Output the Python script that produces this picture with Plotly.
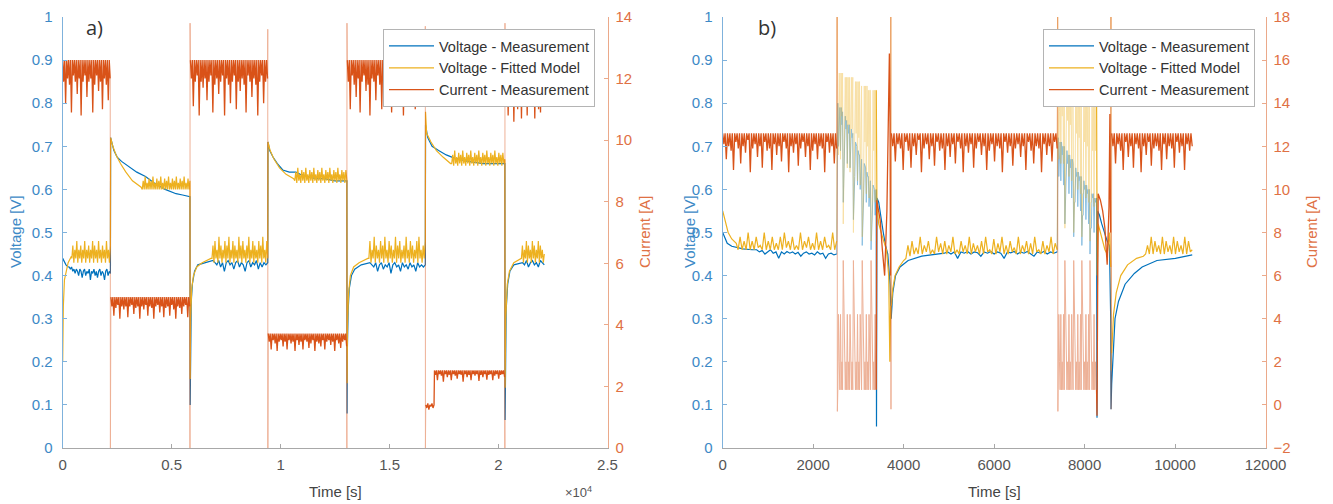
import numpy as np
import plotly.graph_objects as go

# ---------------------------------------------------------------- colours
C_MEAS = "#0072BD"
C_MOD = "#EDB120"
C_CUR = "#D95319"
FONT = "Liberation Sans, Arial, sans-serif"

# ================================================================ panel a)
A_X_TICKS = [0, 5000, 10000, 15000, 20000, 25000]
A_X_TICKTEXT = ["0", "0.5", "1", "1.5", "2", "2.5"]

# current [A], one list per load step
A_CUR_HI1 = [12.6, 11.9, 12.6, 11.2, 12.6, 12.0, 12.6, 11.8, 12.6, 10.9, 12.6, 12.1, 12.6, 11.9, 12.6, 11.5,
             12.6, 12.0, 12.6, 10.8, 12.6, 11.9, 12.6, 12.1, 12.6, 11.4, 12.6, 11.9, 12.6, 12.0, 12.6, 10.9,
             12.6, 11.8, 12.6, 12.1, 12.6, 11.6, 12.6, 11.9, 12.6, 11.0, 12.6, 12.0, 12.6, 11.8, 12.6, 11.3,
             12.6, 12.0]
A_CUR_LO1 = [4.9, 4.6, 4.9, 4.3, 4.9, 4.55, 4.9, 4.65, 4.9, 4.2, 4.9, 4.6, 4.9, 4.5, 4.9, 4.6, 4.9, 4.25, 4.9, 4.6,
             4.9, 4.65, 4.9, 4.35, 4.9, 4.55, 4.9, 4.6, 4.9, 4.2, 4.9, 4.6, 4.9, 4.5, 4.9, 4.65, 4.9, 4.3, 4.9, 4.6,
             4.9, 4.55, 4.9, 4.2, 4.9, 4.6, 4.9, 4.65, 4.9, 4.4, 4.9, 4.6, 4.9, 4.25, 4.9, 4.55, 4.9, 4.6, 4.9, 4.3,
             4.9, 4.65, 4.9, 4.5, 4.9, 4.2, 4.9, 4.6, 4.9, 4.55, 4.9, 4.35, 4.9, 4.6, 4.9, 4.65, 4.9, 4.25, 4.9, 4.6]
A_CUR_HI2 = [12.6, 12.0, 12.6, 11.1, 12.6, 11.9, 12.6, 12.1, 12.6, 10.8, 12.6, 11.9, 12.6, 11.7, 12.6, 12.0,
             12.6, 11.3, 12.6, 11.9, 12.6, 12.1, 12.6, 10.9, 12.6, 11.8, 12.6, 12.0, 12.6, 11.5, 12.6, 11.9,
             12.6, 12.1, 12.6, 10.8, 12.6, 12.0, 12.6, 11.8, 12.6, 11.2, 12.6, 11.9, 12.6, 12.1, 12.6, 11.0,
             12.6, 11.9, 12.6, 11.6, 12.6, 12.0, 12.6, 11.8, 12.6, 10.9, 12.6, 12.1, 12.6, 11.9, 12.6, 11.4,
             12.6, 12.0, 12.6, 11.8, 12.6, 10.8, 12.6, 11.9, 12.6, 12.1, 12.6, 11.2, 12.6, 11.9, 12.6, 12.0]
A_CUR_LO2 = [3.72, 3.45, 3.72, 3.2, 3.72, 3.5, 3.72, 3.4, 3.72, 3.15, 3.72, 3.45, 3.72, 3.5, 3.72, 3.3, 3.72,
             3.45, 3.72, 3.2, 3.72, 3.5, 3.72, 3.4, 3.72, 3.45, 3.72, 3.15, 3.72, 3.5, 3.72, 3.35, 3.72, 3.45,
             3.72, 3.2, 3.72, 3.5, 3.72, 3.45, 3.72, 3.25, 3.72, 3.4, 3.72, 3.5, 3.72, 3.15, 3.72, 3.45, 3.72,
             3.4, 3.72, 3.3, 3.72, 3.5, 3.72, 3.2, 3.72, 3.45, 3.72, 3.5, 3.72, 3.35, 3.72, 3.45, 3.72, 3.15,
             3.72, 3.5, 3.72, 3.4, 3.72, 3.25, 3.72, 3.45, 3.72, 3.5, 3.72, 3.3]
A_CUR_HI3 = [12.6, 11.9, 12.6, 11.0, 12.6, 12.1, 12.6, 11.8, 12.6, 11.4, 12.6, 12.0, 12.6, 10.9, 12.6, 11.9,
             12.6, 12.1, 12.6, 11.6, 12.6, 11.8, 12.6, 10.8, 12.6, 12.0, 12.6, 11.9, 12.6, 11.3, 12.6, 12.1,
             12.6, 11.8, 12.6, 11.0, 12.6, 11.9, 12.6, 12.0, 12.6, 11.5, 12.6, 11.9, 12.6, 10.9, 12.6, 12.1,
             12.6, 11.8, 12.6, 11.2, 12.6, 12.0, 12.6, 11.9, 12.6, 10.8, 12.6, 11.8, 12.6, 12.1, 12.6, 11.4,
             12.6, 11.9, 12.6, 12.0, 12.6, 11.0, 12.6, 11.8, 12.6, 12.1, 12.6, 11.6, 12.6, 11.9, 12.6, 12.0]
A_CUR_DIP = [1.4, 1.3, 1.45, 1.25, 1.4, 1.35, 1.45, 1.3, 1.4]
A_CUR_LO3 = [2.52, 2.38, 2.52, 2.2, 2.52, 2.4, 2.52, 2.35, 2.52, 2.15, 2.52, 2.4, 2.52, 2.3, 2.52, 2.38, 2.52,
             2.2, 2.52, 2.4, 2.52, 2.35, 2.52, 2.25, 2.52, 2.4, 2.52, 2.38, 2.52, 2.15, 2.52, 2.4, 2.52, 2.3,
             2.52, 2.38, 2.52, 2.2, 2.52, 2.4, 2.52, 2.35, 2.52, 2.4, 2.52, 2.18, 2.52, 2.38, 2.52, 2.3, 2.52,
             2.4, 2.52, 2.22, 2.52, 2.38, 2.52, 2.4, 2.52, 2.2, 2.52, 2.35, 2.52, 2.4, 2.52, 2.25, 2.52, 2.38,
             2.52, 2.4, 2.52, 2.3]
A_CUR_HI4 = [12.6, 11.8, 12.6, 10.8, 12.6, 11.9, 12.6, 11.2, 12.6, 10.6, 12.6, 12.0, 12.6, 11.0, 12.6, 11.8,
             12.6, 10.7, 12.6, 11.9, 12.6, 11.3, 12.6, 10.8, 12.6, 12.0, 12.6, 11.1, 12.6, 11.8, 12.6, 10.7,
             12.6, 11.9, 12.6, 11.0, 12.6, 10.9, 12.6, 11.8, 12.6, 12.0]
# short excursions of the current while switching between load steps
A_CUR_SW_T = [[2190], [5840, 5845], [9410, 9415], [13040, 13045], [16640, 16645], [20290, 20295]]
A_CUR_SW_V = [[0.0], [0.0, 13.8], [13.6, 0.0], [0.0, 13.8], [13.7, 0.0], [0.0, 13.8]]

# voltage - fitted model [V]
A_MOD_RISE1_T = [0, 30, 80, 150, 250, 400]
A_MOD_RISE1 = [0.20, 0.33, 0.39, 0.41, 0.43, 0.445]
A_MOD_N1 = [0.44, 0.47, 0.43, 0.46, 0.44, 0.48, 0.43, 0.46, 0.44, 0.47, 0.43, 0.46, 0.44, 0.48, 0.43, 0.46,
            0.44, 0.47, 0.43, 0.46, 0.44, 0.48, 0.43, 0.47, 0.44, 0.46, 0.43, 0.48, 0.44, 0.46, 0.43, 0.47,
            0.44, 0.46, 0.43, 0.48, 0.44, 0.46, 0.43, 0.47]
A_MOD_DEC2_T = [2200, 2300, 2450, 2650, 2900, 3200, 3600]
A_MOD_DEC2 = [0.72, 0.70, 0.68, 0.66, 0.64, 0.62, 0.605]
A_MOD_N2 = [0.60, 0.62, 0.60, 0.63, 0.60, 0.615, 0.60, 0.625, 0.60, 0.62, 0.60, 0.63, 0.60, 0.615, 0.60,
            0.625, 0.60, 0.62, 0.60, 0.63, 0.60, 0.615, 0.60, 0.625, 0.60, 0.62, 0.60, 0.63, 0.60, 0.615,
            0.60, 0.625, 0.60, 0.62, 0.60, 0.63, 0.60, 0.615, 0.60, 0.625, 0.60, 0.62, 0.60, 0.63, 0.60,
            0.615, 0.60, 0.625, 0.60, 0.62]
A_MOD_RISE3_T = [5850, 5870, 5920, 6000, 6150, 6400, 6800]
A_MOD_RISE3 = [0.16, 0.30, 0.37, 0.40, 0.42, 0.43, 0.44]
A_MOD_N3 = [0.44, 0.47, 0.43, 0.48, 0.44, 0.46, 0.43, 0.49, 0.44, 0.47, 0.43, 0.46, 0.44, 0.48, 0.43, 0.47,
            0.44, 0.49, 0.43, 0.46, 0.44, 0.48, 0.43, 0.47, 0.44, 0.46, 0.43, 0.49, 0.44, 0.47, 0.43, 0.48,
            0.44, 0.46, 0.43, 0.47, 0.44, 0.49, 0.43, 0.46, 0.44, 0.48, 0.43, 0.47, 0.44, 0.46, 0.43, 0.48,
            0.44, 0.47, 0.43, 0.49, 0.44, 0.46, 0.43, 0.48, 0.44]
A_MOD_DEC4_T = [9420, 9520, 9700, 9950, 10250, 10600]
A_MOD_DEC4 = [0.71, 0.69, 0.67, 0.65, 0.635, 0.625]
A_MOD_N4 = [0.62, 0.64, 0.615, 0.65, 0.62, 0.635, 0.615, 0.645, 0.62, 0.64, 0.615, 0.65, 0.62, 0.635, 0.615,
            0.645, 0.62, 0.64, 0.615, 0.65, 0.62, 0.635, 0.615, 0.645, 0.62, 0.64, 0.615, 0.65, 0.62, 0.635,
            0.615, 0.645, 0.62, 0.64, 0.615, 0.65, 0.62, 0.635, 0.615, 0.645, 0.62, 0.64, 0.615, 0.65, 0.62,
            0.635, 0.615, 0.645, 0.62, 0.64, 0.615, 0.645, 0.62]
A_MOD_RISE5_T = [13050, 13070, 13120, 13200, 13350, 13600, 14000]
A_MOD_RISE5 = [0.15, 0.29, 0.36, 0.40, 0.42, 0.43, 0.44]
A_MOD_N5 = [0.44, 0.48, 0.43, 0.46, 0.44, 0.49, 0.43, 0.47, 0.44, 0.46, 0.43, 0.48, 0.44, 0.47, 0.43, 0.49,
            0.44, 0.46, 0.43, 0.48, 0.44, 0.47, 0.43, 0.46, 0.44, 0.49, 0.43, 0.47, 0.44, 0.48, 0.43, 0.46,
            0.44, 0.47, 0.43, 0.49, 0.44, 0.46, 0.43, 0.48, 0.44, 0.47, 0.43, 0.46, 0.44, 0.48, 0.43, 0.49,
            0.44, 0.46, 0.43, 0.47, 0.44, 0.48]
A_MOD_DEC6_T = [16650, 16700, 16900, 17150, 17450, 17800]
A_MOD_DEC6 = [0.78, 0.73, 0.71, 0.69, 0.675, 0.66]
A_MOD_N6 = [0.66, 0.68, 0.655, 0.69, 0.66, 0.675, 0.655, 0.685, 0.66, 0.68, 0.655, 0.69, 0.66, 0.675, 0.655,
            0.685, 0.66, 0.68, 0.655, 0.69, 0.66, 0.675, 0.655, 0.685, 0.66, 0.68, 0.655, 0.69, 0.66, 0.675,
            0.655, 0.685, 0.66, 0.68, 0.655, 0.69, 0.66, 0.675, 0.655, 0.685, 0.66, 0.68, 0.655, 0.69, 0.66,
            0.675, 0.655, 0.685, 0.66, 0.68, 0.655, 0.685, 0.66, 0.67]
A_MOD_RISE7_T = [20300, 20330, 20400, 20500, 20700, 21000]
A_MOD_RISE7 = [0.14, 0.30, 0.38, 0.41, 0.43, 0.44]
A_MOD_N7 = [0.44, 0.47, 0.43, 0.46, 0.44, 0.48, 0.43, 0.47, 0.44, 0.46, 0.43, 0.48, 0.44, 0.47, 0.43, 0.46,
            0.44, 0.48, 0.43, 0.47, 0.44, 0.46, 0.43, 0.45]

# voltage - measurement [V]
A_MEAS_RISE1_T = [0, 50, 150, 250]
A_MEAS_RISE1 = [0.44, 0.435, 0.425, 0.42]
A_MEAS_N1 = [0.42, 0.415, 0.42, 0.41, 0.415, 0.405, 0.415, 0.41, 0.40, 0.415, 0.41, 0.395, 0.41, 0.415, 0.40,
             0.41, 0.405, 0.415, 0.39, 0.41, 0.405, 0.415, 0.40, 0.41, 0.395, 0.41, 0.415, 0.40, 0.41, 0.405,
             0.39, 0.41, 0.415, 0.40, 0.41, 0.405]
A_MEAS_2_T = [2200, 2350, 2500, 2700, 3000, 3400, 3800, 4200, 4700, 5200, 5500, 5840]
A_MEAS_2 = [0.72, 0.69, 0.675, 0.665, 0.655, 0.64, 0.63, 0.615, 0.60, 0.59, 0.587, 0.583]
A_MEAS_RISE3_T = [5850, 5860, 5900, 5950, 6050, 6200, 6500, 6800]
A_MEAS_RISE3 = [0.10, 0.25, 0.34, 0.38, 0.41, 0.425, 0.43, 0.435]
A_MEAS_N3 = [0.435, 0.43, 0.425, 0.435, 0.42, 0.43, 0.41, 0.43, 0.435, 0.425, 0.43, 0.415, 0.43, 0.435, 0.42,
             0.43, 0.425, 0.41, 0.43, 0.435, 0.42, 0.43, 0.425, 0.435, 0.415, 0.43, 0.42, 0.43, 0.425, 0.43]
A_MEAS_4_T = [9420, 9500, 9650, 9850, 10100, 10400, 10700, 10900, 11200, 11600, 12000, 12500, 13040]
A_MEAS_4 = [0.71, 0.69, 0.675, 0.66, 0.645, 0.64, 0.64, 0.635, 0.63, 0.625, 0.625, 0.62, 0.62]
A_MEAS_RISE5_T = [13050, 13060, 13100, 13150, 13250, 13400, 13700, 14000]
A_MEAS_RISE5 = [0.08, 0.22, 0.32, 0.37, 0.40, 0.415, 0.425, 0.43]
A_MEAS_N5 = [0.43, 0.425, 0.42, 0.43, 0.41, 0.425, 0.43, 0.415, 0.425, 0.42, 0.43, 0.405, 0.425, 0.43, 0.42,
             0.425, 0.41, 0.43, 0.42, 0.425, 0.415, 0.43, 0.42, 0.425, 0.41, 0.43, 0.42, 0.425, 0.42, 0.425]
A_MEAS_6_T = [16650, 16750, 16950, 17250, 17600, 18000, 18600, 19300, 20290]
A_MEAS_6 = [0.75, 0.72, 0.70, 0.69, 0.68, 0.672, 0.665, 0.66, 0.66]
A_MEAS_RISE7_T = [20300, 20310, 20350, 20420, 20520, 20700, 21000]
A_MEAS_RISE7 = [0.065, 0.20, 0.32, 0.38, 0.41, 0.425, 0.43]
A_MEAS_N7 = [0.43, 0.425, 0.435, 0.42, 0.43, 0.435, 0.425, 0.43, 0.42, 0.435, 0.43, 0.425]

# ================================================================ panel b)
B_X_TICKS = [0, 2000, 4000, 6000, 8000, 10000, 12000]
B_X_TICKTEXT = ["0", "2000", "4000", "6000", "8000", "10000", "12000"]

B_CUR_HI1 = [12.6, 12.1, 12.6, 11.4, 12.6, 12.0, 12.6, 11.8, 12.6, 10.9, 12.6, 12.2, 12.6, 11.9, 12.6, 11.2,
             12.6, 12.0, 12.6, 11.7, 12.6, 12.3, 12.6, 10.8, 12.6, 11.9, 12.6, 12.1, 12.6, 11.5, 12.6, 12.0,
             12.6, 11.0, 12.6, 12.2, 12.6, 11.8, 12.6, 11.9, 12.6, 10.9, 12.6, 12.1, 12.6, 11.6, 12.6, 12.0,
             12.6, 11.3, 12.6, 12.2, 12.6, 11.9, 12.6, 10.8, 12.6, 12.0, 12.6, 11.7, 12.6, 12.1, 12.6, 11.1,
             12.6, 11.9, 12.6, 12.2, 12.6, 11.5, 12.6, 12.0, 12.6, 10.9, 12.6, 11.8, 12.6, 12.1, 12.6, 11.4,
             12.6, 12.0, 12.6, 11.9, 12.6, 10.8, 12.6, 12.2, 12.6, 11.7, 12.6, 12.0, 12.6, 11.2, 12.6, 11.9]
B_CUR_HI2 = [12.6, 12.0, 12.6, 11.3, 12.6, 12.1, 12.6, 11.9, 12.6, 10.9, 12.6, 12.2, 12.6, 11.8, 12.6, 11.0,
             12.6, 12.0, 12.6, 11.6, 12.6, 12.3, 12.6, 10.8, 12.6, 11.9, 12.6, 12.1, 12.6, 11.4, 12.6, 12.0,
             12.6, 11.1, 12.6, 12.2, 12.6, 11.8, 12.6, 11.9, 12.6, 10.9, 12.6, 12.0, 12.6, 11.5, 12.6, 12.1,
             12.6, 11.2, 12.6, 12.2, 12.6, 11.9, 12.6, 10.8, 12.6, 12.0, 12.6, 11.7, 12.6, 12.1, 12.6, 11.0,
             12.6, 11.9, 12.6, 12.2, 12.6, 11.6, 12.6, 12.0, 12.6, 10.9, 12.6, 11.8, 12.6, 12.1, 12.6, 11.3,
             12.6, 12.0, 12.6, 11.9, 12.6, 10.8, 12.6, 12.2, 12.6, 11.7, 12.6, 12.0, 12.6, 11.1, 12.6, 11.9,
             12.6, 12.1, 12.6, 11.5, 12.6, 12.0, 12.6, 10.9, 12.6, 12.2, 12.6, 11.8, 12.6, 11.2, 12.6, 12.0,
             12.6, 11.9, 12.6, 10.8, 12.6, 12.1, 12.6, 11.6, 12.6, 12.0, 12.6, 11.3, 12.6, 12.2, 12.6, 11.9]
B_CUR_HI3 = [12.6, 12.0, 12.6, 11.2, 12.6, 12.1, 12.6, 11.8, 12.6, 10.9, 12.6, 12.2, 12.6, 11.5, 12.6, 12.0,
             12.6, 11.0, 12.6, 12.1, 12.6, 11.9, 12.6, 10.8, 12.6, 12.0, 12.6, 11.6, 12.6, 12.2, 12.6, 11.1,
             12.6, 11.9, 12.6, 12.0, 12.6, 11.8, 12.6, 10.9, 12.6, 12.1, 12.6, 11.4, 12.6, 12.0, 12.6, 11.9,
             12.6, 11.0, 12.6, 12.2, 12.6, 11.7, 12.6, 12.0, 12.6, 10.9, 12.6, 12.1, 12.6, 11.8, 12.6, 12.0]
B_CUR_PULSE1 = [0.7, 4.2, 2.0, 0.7, 4.2, 0.7, 2.0, 0.7,
                6.7, 4.2, 4.2, 0.7, 2.0, 0.7, 4.2, 0.7, 2.0, 0.7, 4.2, 0.7, 0.7, 2.0, 0.7,
                6.7, 4.2, 4.2, 0.7, 2.0, 0.7, 4.2, 0.7, 2.0, 0.7, 4.2, 0.7, 0.7,
                6.7, 4.2, 4.2, 0.7, 2.0, 0.7, 4.2, 0.7, 2.0, 0.7, 4.2, 0.7, 0.7,
                6.7, 4.2, 4.2, 0.7, 2.0, 0.7, 4.2, 0.7]
B_CUR_PULSE2 = [0.7, 4.2, 2.0, 0.7, 4.2, 0.7, 2.0, 0.7, 4.2, 0.7,
                6.7, 4.2, 4.2, 0.7, 2.0, 0.7, 4.2, 0.7, 2.0, 0.7, 4.2, 0.7, 0.7,
                6.7, 4.2, 4.2, 0.7, 2.0, 0.7, 4.2, 0.7, 2.0, 0.7, 4.2, 0.7,
                6.7, 4.2, 4.2, 0.7, 2.0, 0.7, 4.2, 0.7, 2.0, 0.7, 4.2, 0.7,
                6.7, 4.2, 4.2, 0.7, 2.0, 0.7, 4.2, 0.7, 2.0, 0.7]
B_CUR_MID1_T = [3395, 3405, 3430, 3480, 3530, 3580, 3630, 3660, 3685, 3700, 3710]
B_CUR_MID1 = [0.7, 9.5, 9.2, 8.6, 7.2, 6.0, 9.0, 13.7, 16.3, 13.0, 6.0]
B_CUR_MID2_T = [8265, 8275, 8300, 8350, 8400, 8450, 8500, 8540, 8560, 8575]
B_CUR_MID2 = [0.7, -0.5, 9.8, 9.5, 9.0, 8.2, 6.5, 9.2, 13.5, 8.0]
B_CUR_SW_T = [[2530, 2535], [3716, 3720], [7405, 7410], [8583, 8587]]
B_CUR_SW_V = [[18.0, -0.3], [18.0, -0.2], [18.0, -0.3], [18.0, -0.2]]

B_MOD_DEC1_T = [0, 50, 120, 200, 300]
B_MOD_DEC1 = [0.55, 0.53, 0.50, 0.485, 0.475]
B_MOD_N1 = [0.46, 0.49, 0.46, 0.48, 0.46, 0.50, 0.46, 0.48, 0.46, 0.49, 0.465, 0.47, 0.46, 0.50, 0.46, 0.48,
            0.46, 0.49, 0.46, 0.475, 0.46, 0.49, 0.46, 0.50, 0.465, 0.48, 0.46, 0.49, 0.46, 0.47, 0.46, 0.50,
            0.46, 0.48, 0.465, 0.49, 0.46, 0.475, 0.46, 0.50, 0.46, 0.48, 0.46, 0.49, 0.465, 0.47, 0.46, 0.50,
            0.46, 0.48]
B_MOD_PULSE1 = [0.87, 0.68, 0.78, 0.87, 0.67, 0.87, 0.77, 0.87,
                0.52, 0.64, 0.65, 0.86, 0.76, 0.86, 0.65, 0.86, 0.75, 0.86, 0.64, 0.86, 0.86, 0.74, 0.86,
                0.50, 0.62, 0.63, 0.85, 0.73, 0.85, 0.62, 0.85, 0.72, 0.85, 0.61, 0.84, 0.84,
                0.49, 0.60, 0.60, 0.84, 0.71, 0.84, 0.59, 0.84, 0.70, 0.83, 0.58, 0.83, 0.83,
                0.48, 0.57, 0.57, 0.83, 0.69, 0.83, 0.57, 0.83]
B_MOD_PULSE2 = [0.87, 0.67, 0.78, 0.87, 0.66, 0.87, 0.77, 0.87, 0.66, 0.87,
                0.51, 0.64, 0.64, 0.86, 0.76, 0.86, 0.63, 0.86, 0.75, 0.86, 0.62, 0.86, 0.85,
                0.50, 0.61, 0.61, 0.85, 0.73, 0.85, 0.60, 0.85, 0.72, 0.84, 0.59, 0.84,
                0.49, 0.59, 0.59, 0.84, 0.71, 0.84, 0.58, 0.84, 0.70, 0.83, 0.57, 0.83,
                0.48, 0.57, 0.57, 0.83, 0.69, 0.83, 0.56, 0.83, 0.69, 0.83]
B_MOD_MID1_T = [3395, 3410, 3450, 3500, 3560, 3620, 3670, 3695, 3705, 3712]
B_MOD_MID1 = [0.83, 0.56, 0.52, 0.50, 0.48, 0.46, 0.40, 0.20, 0.30, 0.33]
B_MOD_MID2_T = [8265, 8280, 8300, 8350, 8400, 8450, 8500, 8550, 8578]
B_MOD_MID2 = [0.83, 0.40, 0.52, 0.50, 0.48, 0.46, 0.45, 0.50, 0.42]
B_MOD_SW_T = [[2530, 2535], [3716, 3720], [7405, 7410], [8583, 8587]]
B_MOD_SW_V = [[1.0, 0.87], [1.0, 0.30], [1.0, 0.87], [1.0, 0.18]]
B_MOD_RISE2_T = [3730, 3760, 3810, 3900, 4000]
B_MOD_RISE2 = [0.33, 0.37, 0.40, 0.42, 0.435]
B_MOD_N2 = [0.44, 0.47, 0.445, 0.48, 0.45, 0.465, 0.45, 0.49, 0.45, 0.47, 0.455, 0.48, 0.45, 0.46, 0.45,
            0.49, 0.455, 0.475, 0.45, 0.48, 0.45, 0.47, 0.455, 0.49, 0.45, 0.46, 0.45, 0.48, 0.455, 0.47,
            0.45, 0.49, 0.45, 0.475, 0.455, 0.47, 0.45, 0.48, 0.45, 0.49, 0.455, 0.46, 0.45, 0.485, 0.45,
            0.475, 0.455, 0.49, 0.45, 0.47, 0.45, 0.48, 0.455, 0.465, 0.45, 0.49, 0.45, 0.47, 0.455, 0.48,
            0.45, 0.475, 0.45, 0.49, 0.455, 0.46, 0.45, 0.48, 0.45, 0.47, 0.455, 0.49, 0.45, 0.475, 0.46]
B_MOD_RISE3_T = [8600, 8640, 8700, 8800, 8950, 9150, 9300]
B_MOD_RISE3 = [0.22, 0.31, 0.36, 0.40, 0.425, 0.44, 0.445]
B_MOD_N3 = [0.45, 0.47, 0.45, 0.49, 0.45, 0.48, 0.455, 0.47, 0.45, 0.49, 0.45, 0.48, 0.455, 0.47, 0.45,
            0.49, 0.45, 0.48, 0.455, 0.47, 0.45, 0.49, 0.45, 0.48, 0.455, 0.46]

B_MEAS_1_T = [0, 40, 100, 200, 300, 450, 650]
B_MEAS_1 = [0.50, 0.49, 0.475, 0.468, 0.465, 0.462, 0.46]
B_MEAS_N1 = [0.46, 0.455, 0.458, 0.45, 0.456, 0.46, 0.452, 0.455, 0.44, 0.455, 0.45, 0.456, 0.452, 0.455,
             0.45, 0.454, 0.445, 0.452, 0.455, 0.45, 0.452, 0.448, 0.455, 0.45, 0.452, 0.44, 0.45, 0.452,
             0.448, 0.45]
B_MEAS_PULSE1 = [0.80, 0.70, 0.76, 0.79, 0.69, 0.79, 0.75, 0.78,
                 0.57, 0.66, 0.67, 0.77, 0.74, 0.76, 0.66, 0.75, 0.73, 0.75, 0.65, 0.74, 0.74, 0.72, 0.73,
                 0.53, 0.63, 0.63, 0.71, 0.70, 0.70, 0.61, 0.69, 0.68, 0.68, 0.60, 0.67, 0.67,
                 0.47, 0.58, 0.58, 0.66, 0.65, 0.65, 0.57, 0.64, 0.63, 0.63, 0.56, 0.62, 0.62,
                 0.46, 0.55, 0.55, 0.61, 0.60, 0.60, 0.54, 0.60]
B_MEAS_PULSE2 = [0.72, 0.63, 0.69, 0.71, 0.62, 0.71, 0.68, 0.70, 0.61, 0.70,
                 0.52, 0.60, 0.60, 0.69, 0.66, 0.68, 0.59, 0.68, 0.65, 0.67, 0.58, 0.67, 0.66,
                 0.49, 0.57, 0.57, 0.65, 0.63, 0.64, 0.56, 0.64, 0.62, 0.63, 0.55, 0.63,
                 0.47, 0.54, 0.54, 0.62, 0.60, 0.61, 0.53, 0.61, 0.59, 0.60, 0.52, 0.60,
                 0.45, 0.51, 0.51, 0.59, 0.58, 0.59, 0.50, 0.58, 0.57, 0.58]
B_MEAS_MID1_T = [3395, 3400, 3410, 3450, 3500, 3550, 3600, 3650, 3700, 3716]
B_MEAS_MID1 = [0.60, 0.05, 0.58, 0.57, 0.53, 0.50, 0.47, 0.45, 0.38, 0.30]
B_MEAS_MID2_T = [8265, 8275, 8290, 8330, 8380, 8440, 8500, 8550, 8578]
B_MEAS_MID2 = [0.58, 0.07, 0.55, 0.54, 0.52, 0.50, 0.48, 0.47, 0.30]
B_MEAS_RISE2_T = [3725, 3760, 3820, 3920, 4100, 4400, 4800]
B_MEAS_RISE2 = [0.30, 0.36, 0.40, 0.42, 0.435, 0.445, 0.45]
B_MEAS_N2 = [0.452, 0.455, 0.45, 0.455, 0.44, 0.455, 0.452, 0.456, 0.45, 0.455, 0.453, 0.445, 0.455, 0.452,
             0.456, 0.45, 0.455, 0.452, 0.44, 0.455, 0.453, 0.456, 0.45, 0.455, 0.452, 0.456, 0.45, 0.445,
             0.455, 0.452, 0.456, 0.45, 0.455, 0.452, 0.455]
B_MEAS_RISE3_T = [8585, 8600, 8673, 8750, 8896, 9100, 9273, 9600, 10007, 10380]
B_MEAS_RISE3 = [0.09, 0.15, 0.30, 0.34, 0.38, 0.405, 0.42, 0.435, 0.44, 0.448]


# ---------------------------------------------------------------- helpers
def spread(t0, t1, vals):
    """Samples of one logged block, evenly spaced between its start and end time."""
    return np.linspace(t0, t1, len(vals)).tolist(), list(vals)


def seq(*parts):
    """Concatenate (times, values) pieces; None breaks the line."""
    t, v = [], []
    for p in parts:
        if p is None:
            t.append(None)
            v.append(None)
            continue
        t.extend(p[0])
        v.extend(p[1])
    return t, v


def bridges(blocks, sw_t, sw_v):
    """Thin switching lines: last sample of a block -> excursion -> first sample of next."""
    parts = []
    for (prev, nxt), st, sv in zip(blocks, sw_t, sw_v):
        parts.append(([prev[0][-1]] + st + [nxt[0][0]], [prev[1][-1]] + sv + [nxt[1][0]]))
        parts.append(None)
    return seq(*parts)


# ---------------------------------------------------------------- panel a series
a_blk = [spread(0, 2180, A_CUR_HI1), spread(2210, 5830, A_CUR_LO1), spread(5860, 9400, A_CUR_HI2),
         spread(9430, 13030, A_CUR_LO2), spread(13060, 16630, A_CUR_HI3),
         seq(spread(16660, 17040, A_CUR_DIP), spread(17060, 20280, A_CUR_LO3)),
         spread(20310, 22100, A_CUR_HI4)]
a_cur = seq(*sum([[b, None] for b in a_blk], [])[:-1])
a_cur_sw = bridges(list(zip(a_blk[:-1], a_blk[1:])), A_CUR_SW_T, A_CUR_SW_V)

a_mod = seq((A_MOD_RISE1_T, A_MOD_RISE1), spread(420, 2190, A_MOD_N1),
            (A_MOD_DEC2_T, A_MOD_DEC2), spread(3650, 5840, A_MOD_N2),
            (A_MOD_RISE3_T, A_MOD_RISE3), spread(6850, 9410, A_MOD_N3),
            (A_MOD_DEC4_T, A_MOD_DEC4), spread(10650, 13040, A_MOD_N4),
            (A_MOD_RISE5_T, A_MOD_RISE5), spread(14050, 16640, A_MOD_N5),
            (A_MOD_DEC6_T, A_MOD_DEC6), spread(17850, 20290, A_MOD_N6),
            (A_MOD_RISE7_T, A_MOD_RISE7), spread(21050, 22100, A_MOD_N7))

a_meas = seq((A_MEAS_RISE1_T, A_MEAS_RISE1), spread(300, 2190, A_MEAS_N1),
             (A_MEAS_2_T, A_MEAS_2),
             (A_MEAS_RISE3_T, A_MEAS_RISE3), spread(6900, 9410, A_MEAS_N3),
             (A_MEAS_4_T, A_MEAS_4),
             (A_MEAS_RISE5_T, A_MEAS_RISE5), spread(14100, 16640, A_MEAS_N5),
             (A_MEAS_6_T, A_MEAS_6),
             (A_MEAS_RISE7_T, A_MEAS_RISE7), spread(21100, 22100, A_MEAS_N7))

# ---------------------------------------------------------------- panel b series
b_hi1 = spread(0, 2520, B_CUR_HI1)
b_p1 = spread(2545, 3385, B_CUR_PULSE1)
b_m1 = (B_CUR_MID1_T, B_CUR_MID1)
b_hi2 = spread(3730, 7395, B_CUR_HI2)
b_p2 = spread(7415, 8255, B_CUR_PULSE2)
b_m2 = (B_CUR_MID2_T, B_CUR_MID2)
b_hi3 = spread(8600, 10380, B_CUR_HI3)
b_cur = seq(b_hi1, None, b_m1, None, b_hi2, None, b_m2, None, b_hi3)
b_cur_light = seq(bridges([(b_hi1, b_p1)], B_CUR_SW_T[:1], B_CUR_SW_V[:1]), b_p1, None,
                  bridges([(b_m1, b_hi2)], B_CUR_SW_T[1:2], B_CUR_SW_V[1:2]),
                  bridges([(b_hi2, b_p2)], B_CUR_SW_T[2:3], B_CUR_SW_V[2:3]), b_p2, None,
                  bridges([(b_m2, b_hi3)], B_CUR_SW_T[3:], B_CUR_SW_V[3:]))

bm_1 = seq((B_MOD_DEC1_T, B_MOD_DEC1), spread(340, 2520, B_MOD_N1))
bm_p1 = spread(2545, 3385, B_MOD_PULSE1)
bm_m1 = (B_MOD_MID1_T, B_MOD_MID1)
bm_2 = seq((B_MOD_RISE2_T, B_MOD_RISE2), spread(4050, 7395, B_MOD_N2))
bm_p2 = spread(7415, 8255, B_MOD_PULSE2)
bm_m2 = (B_MOD_MID2_T, B_MOD_MID2)
bm_3 = seq((B_MOD_RISE3_T, B_MOD_RISE3), spread(9350, 10380, B_MOD_N3))
b_mod = seq(bm_1, None, bm_m1, None, bm_2, None, bm_m2, None, bm_3)
b_mod_light = seq(bridges([(bm_1, bm_p1)], B_MOD_SW_T[:1], B_MOD_SW_V[:1]), bm_p1,
                  ([bm_m1[0][0]], [bm_m1[1][0]]), None,
                  bridges([(bm_m1, bm_2)], B_MOD_SW_T[1:2], B_MOD_SW_V[1:2]),
                  bridges([(bm_2, bm_p2)], B_MOD_SW_T[2:3], B_MOD_SW_V[2:3]), bm_p2,
                  ([bm_m2[0][0]], [bm_m2[1][0]]), None,
                  bridges([(bm_m2, bm_3)], B_MOD_SW_T[3:], B_MOD_SW_V[3:]))

bs_1 = seq((B_MEAS_1_T, B_MEAS_1), spread(750, 2520, B_MEAS_N1))
bs_p1 = spread(2545, 3385, B_MEAS_PULSE1)
bs_m1 = (B_MEAS_MID1_T, B_MEAS_MID1)
bs_2 = seq((B_MEAS_RISE2_T, B_MEAS_RISE2), spread(4900, 7395, B_MEAS_N2))
bs_p2 = spread(7415, 8255, B_MEAS_PULSE2)
bs_m2 = (B_MEAS_MID2_T, B_MEAS_MID2)
bs_3 = (B_MEAS_RISE3_T, B_MEAS_RISE3)
b_meas = seq(bs_1, None, bs_m1, bs_2, None, bs_m2, bs_3)
b_meas_light = seq(([bs_1[0][-1]], [bs_1[1][-1]]), bs_p1, ([bs_m1[0][0]], [bs_m1[1][0]]), None,
                   ([bs_2[0][-1]], [bs_2[1][-1]]), bs_p2, ([bs_m2[0][0]], [bs_m2[1][0]]))

# ---------------------------------------------------------------- figure
fig = go.Figure()


def line(xy, color, xa, ya, name=None, legend="legend", opacity=1.0, width=1.2):
    fig.add_trace(go.Scatter(x=xy[0], y=xy[1], mode="lines", xaxis=xa, yaxis=ya,
                             line=dict(color=color, width=width), opacity=opacity,
                             name=name or "switching", showlegend=name is not None, legend=legend,
                             hoverinfo="skip"))


line(a_meas, C_MEAS, "x", "y", "Voltage - Measurement")
line(a_mod, C_MOD, "x", "y", "Voltage - Fitted Model")
line(a_cur, C_CUR, "x", "y2", "Current - Measurement", width=1.3)
line(a_cur_sw, C_CUR, "x", "y2", opacity=0.45, width=1.0)

line(b_meas, C_MEAS, "x2", "y3", "Voltage - Measurement", legend="legend2")
line(b_meas_light, C_MEAS, "x2", "y3", opacity=0.45, width=1.0)
line(b_mod_light, C_MOD, "x2", "y3", opacity=0.4, width=1.0)
line(b_mod, C_MOD, "x2", "y3", "Voltage - Fitted Model", legend="legend2")
line(b_cur_light, C_CUR, "x2", "y4", opacity=0.45, width=1.0)
line(b_cur, C_CUR, "x2", "y4", "Current - Measurement", legend="legend2", width=1.3)

W, H = 1333, 504
PLOT_TOP, PLOT_BOT = 17, 448
ydom = [1 - PLOT_BOT / H, 1 - PLOT_TOP / H]
A_DOM = [62.7 / W, 607.5 / W]
B_DOM = [722.7 / W, 1265.5 / W]

LEFT_TICK = "#3d89c6"
LEFT_LINE = "#7fb2dc"
RIGHT_TICK = "#df7144"
RIGHT_LINE = "#eba98a"
X_TICK = "#555555"
X_LINE = "#a8a8a8"

common_x = dict(showgrid=False, zeroline=False, showline=True, linecolor=X_LINE, linewidth=1.3,
                ticks="inside", ticklen=4, tickcolor=X_LINE, tickfont=dict(family=FONT, size=15, color=X_TICK),
                ticklabelstandoff=3, automargin=False)
common_yl = dict(showgrid=False, zeroline=False, showline=True, linecolor=LEFT_LINE, linewidth=1,
                 ticks="inside", ticklen=4, tickcolor=LEFT_LINE, domain=ydom,
                 tickfont=dict(family=FONT, size=15, color=LEFT_TICK), range=[0, 1], dtick=0.1,
                 ticklabelstandoff=6, automargin=False)
common_yr = dict(showgrid=False, zeroline=False, showline=True, linecolor=RIGHT_LINE, linewidth=1,
                 ticks="inside", ticklen=4, tickcolor=RIGHT_LINE, side="right",
                 tickfont=dict(family=FONT, size=15, color=RIGHT_TICK), ticklabelstandoff=4, automargin=False)

legend_style = dict(bgcolor="white", bordercolor="#b4b4b4", borderwidth=1,
                    font=dict(family=FONT, size=14.5, color="#333333"), xanchor="right", yanchor="top",
                    itemwidth=45, tracegroupgap=0, itemclick=False)

fig.update_layout(
    width=W, height=H, margin=dict(l=0, r=0, t=0, b=0, autoexpand=False),
    paper_bgcolor="white", plot_bgcolor="white",
    xaxis=dict(domain=A_DOM, range=[0, 25000], tickvals=A_X_TICKS, ticktext=A_X_TICKTEXT, anchor="y",
               **common_x),
    yaxis=dict(anchor="x", **common_yl),
    yaxis2=dict(anchor="x", overlaying="y", range=[0, 14], dtick=2, **common_yr),
    xaxis2=dict(domain=B_DOM, range=[0, 12000], tickvals=B_X_TICKS, ticktext=B_X_TICKTEXT, anchor="y3",
                **common_x),
    yaxis3=dict(anchor="x2", **common_yl),
    yaxis4=dict(anchor="x2", overlaying="y3", range=[-2, 18], dtick=2, **common_yr),
    legend=dict(x=595 / W, y=1 - 29 / H, **legend_style),
    legend2=dict(x=1255 / W, y=1 - 29 / H, **legend_style),
    showlegend=True,
)


def note(text, x, y, size=15, color="#444444", angle=0, family=FONT, xanchor="center"):
    fig.add_annotation(text=text, x=x / W, y=1 - y / H, xref="paper", yref="paper", showarrow=False,
                       textangle=angle, xanchor=xanchor, yanchor="middle",
                       font=dict(family=family, size=size, color=color))


note("a)", 84, 27, size=20, color="#333333", family="Open Sans, sans-serif", xanchor="left")
note("b)", 756, 27, size=20, color="#333333", family="Open Sans, sans-serif", xanchor="left")
note("Time [s]", 335, 491)
note("Time [s]", 994, 491)
note("×10<sup>4</sup>", 578, 492, size=13, color="#555555")
note("Voltage [V]", 16, 232, color=LEFT_TICK, angle=-90)
note("Current [A]", 645, 232, color=RIGHT_TICK, angle=-90)
note("Voltage [V]", 690, 232, color=LEFT_TICK, angle=-90)
note("Current [A]", 1312, 232, color=RIGHT_TICK, angle=-90)

fig.write_html("out.html")
